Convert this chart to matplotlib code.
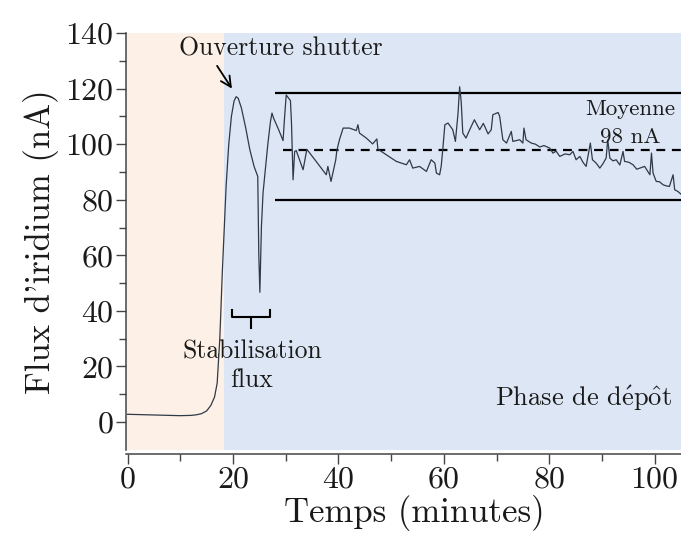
import matplotlib.pyplot as plt

plt.rcParams["font.family"] = ["cmr10", "DejaVu Serif"]
plt.rcParams["mathtext.fontset"] = "cm"
plt.rcParams["axes.formatter.use_mathtext"] = True

# courant mesure (nA) en fonction du temps (min)
temps = [
    0, 2, 4, 6, 8, 10, 12, 13, 14, 15, 15.8, 16.5, 17, 17.5, 18, 18.4, 18.7,
    19.2, 19.7, 20.2, 20.6, 21.0, 21.6, 22.4, 23.2, 24.0, 24.7, 24.9, 25.1,
    25.4, 25.7, 26.2, 26.6, 27.1, 27.4, 27.7, 28.6, 29.5, 29.8, 30.1, 30.9,
    31.1, 31.4, 31.7, 32.0, 33.3, 34.0, 34.2, 35.5, 37.7, 38.0, 38.6, 39.5,
    39.7, 40.2, 40.9, 42.1, 43.4, 43.7, 44.0, 45.3, 46.5, 47.3, 47.5, 49.1,
    51.0, 52.9, 53.5, 54.1, 55.4, 56.7, 57.6, 58.3, 58.6, 59.2, 59.5, 59.8,
    60.2, 60.8, 61.7, 62.2, 62.7, 63.0, 63.3, 63.6, 64.2, 65.2, 65.8, 66.8,
    67.5, 68.4, 69.0, 69.3, 70.3, 70.6, 71.2, 71.9, 72.8, 73.1, 74.4, 75.0,
    75.2, 75.6, 76.6, 77.4, 78.2, 79.0, 80.1, 80.7, 81.3, 82.0, 83.0, 83.9,
    84.5, 85.1, 85.8, 86.4, 87.0, 87.8, 88.2, 88.9, 89.6, 90.2, 90.8, 91.1,
    91.5, 92.1, 92.7, 93.4, 94.0, 94.3, 95.1, 95.9, 96.6, 97.2, 98.1, 98.6,
    99.1, 99.4, 99.7, 100.3, 100.9, 101.6, 102.2, 102.8, 103.5, 103.8, 104.4,
    105.0,
]
flux = [
    2.8, 2.7, 2.6, 2.5, 2.4, 2.3, 2.4, 2.6, 3.0, 4.0, 6.0, 9.0, 14.0, 30.0,
    55.0, 72.0, 85.0, 100.0, 110.0, 115.5, 117.1, 116.5, 113.0, 106.0, 98.0,
    92.0, 88.4, 60.0, 46.7, 70.5, 82.4, 92.0, 99.8, 108.0, 111.2, 109.4,
    105.5, 101.3, 110.0, 117.7, 115.7, 107.7, 87.2, 97.4, 97.7, 90.8, 98.0,
    97.7, 94.5, 89.0, 92.0, 86.6, 94.4, 97.7, 101.6, 105.8, 105.8, 104.9,
    107.0, 104.0, 102.2, 100.1, 101.9, 98.2, 96.2, 93.8, 92.6, 94.4, 91.4,
    92.0, 90.2, 94.4, 93.2, 89.6, 89.0, 92.0, 98.0, 107.0, 107.6, 105.2,
    101.0, 111.2, 120.7, 115.3, 104.0, 102.2, 106.4, 108.8, 105.2, 107.5,
    103.7, 105.2, 110.6, 111.4, 110.0, 101.6, 100.4, 104.6, 101.0, 101.6,
    100.4, 105.8, 101.6, 100.4, 100.0, 99.0, 99.5, 98.6, 96.8, 97.5, 95.6,
    96.5, 96.2, 97.4, 94.4, 95.6, 93.5, 92.0, 100.4, 94.4, 93.2, 91.4, 93.0,
    95.0, 101.6, 95.0, 94.0, 94.4, 92.5, 97.4, 93.8, 93.5, 92.6, 91.0, 91.4,
    92.0, 90.5, 89.0, 96.8, 89.6, 86.6, 86.5, 85.4, 85.0, 84.8, 89.0, 83.6,
    83.0, 82.0,
]

t_debut_depot = 18.3
t_debut_moyenne = 28.0
moyenne = 98.0
borne_haute = 118.5
borne_basse = 80.0

texte = "#1a1a1a"

fig = plt.figure(figsize=(6.81, 5.33), dpi=100)
ax = fig.add_axes([0.185, 0.156, 0.815, 0.782])

ax.axvspan(-5, t_debut_depot, color="#fdf0e6", lw=0, zorder=0)
ax.axvspan(t_debut_depot, 110, color="#dce6f4", lw=0, zorder=0)

ax.plot(temps, flux, color="#2e3a48", lw=0.9, zorder=3)
ax.hlines([borne_haute, borne_basse], t_debut_moyenne, 105, color="black", lw=1.6, zorder=2)
ax.hlines(moyenne, 29.4, 105, color="black", lw=1.6, linestyles=(0, (4, 3)), zorder=2)

ax.annotate("Ouverture shutter", xy=(19.8, 120.0), xytext=(29.1, 134.3),
            ha="center", va="center", fontsize=18.5, color=texte,
            arrowprops=dict(arrowstyle="->", color="black", lw=1.3,
                            shrinkA=2, shrinkB=0, relpos=(0.17, 0.0)))

# accolade sous le creux
ax.plot([19.8, 19.8, 27.1, 27.1], [40.5, 37.7, 37.7, 40.5], color="black", lw=1.5)
ax.plot([23.4, 23.4], [37.7, 33.8], color="black", lw=1.5)
ax.text(23.6, 20.3, "Stabilisation\nflux", ha="center", va="center",
        fontsize=18.5, linespacing=1.25, color=texte)

ax.text(95.3, 107.5, "Moyenne\n98 nA", ha="center", va="center",
        fontsize=16.5, linespacing=1.5, color=texte)
ax.text(86.5, 8.5, r"Phase de d$\mathrm{\acute{e}}$p$\mathrm{\hat{o}}$t",
        ha="center", va="center", fontsize=19, color=texte)

ax.set_xlim(-0.3, 105)
ax.set_ylim(-10, 140)
ax.set_xticks(range(0, 101, 20))
ax.set_xticks(range(10, 101, 20), minor=True)
ax.set_yticks(range(0, 141, 20))
ax.set_yticks(range(10, 141, 20), minor=True)

for side in ("top", "right"):
    ax.spines[side].set_visible(False)
ax.spines["bottom"].set_position(("outward", 3))
for side in ("left", "bottom"):
    ax.spines[side].set_linewidth(1.1)
    ax.spines[side].set_color("#444444")

ax.tick_params(which="both", direction="out", color="#444444", width=1.0,
               labelcolor=texte)
ax.tick_params(which="major", length=7, labelsize=23, pad=2)
ax.tick_params(which="minor", length=5)

ax.set_xlabel("Temps (minutes)", fontsize=25, color=texte)
ax.xaxis.set_label_coords(0.52, -0.108)
ax.set_ylabel("Flux d'iridium (nA)", fontsize=25, labelpad=4, color=texte)

fig.savefig("out.png", dpi=100)
